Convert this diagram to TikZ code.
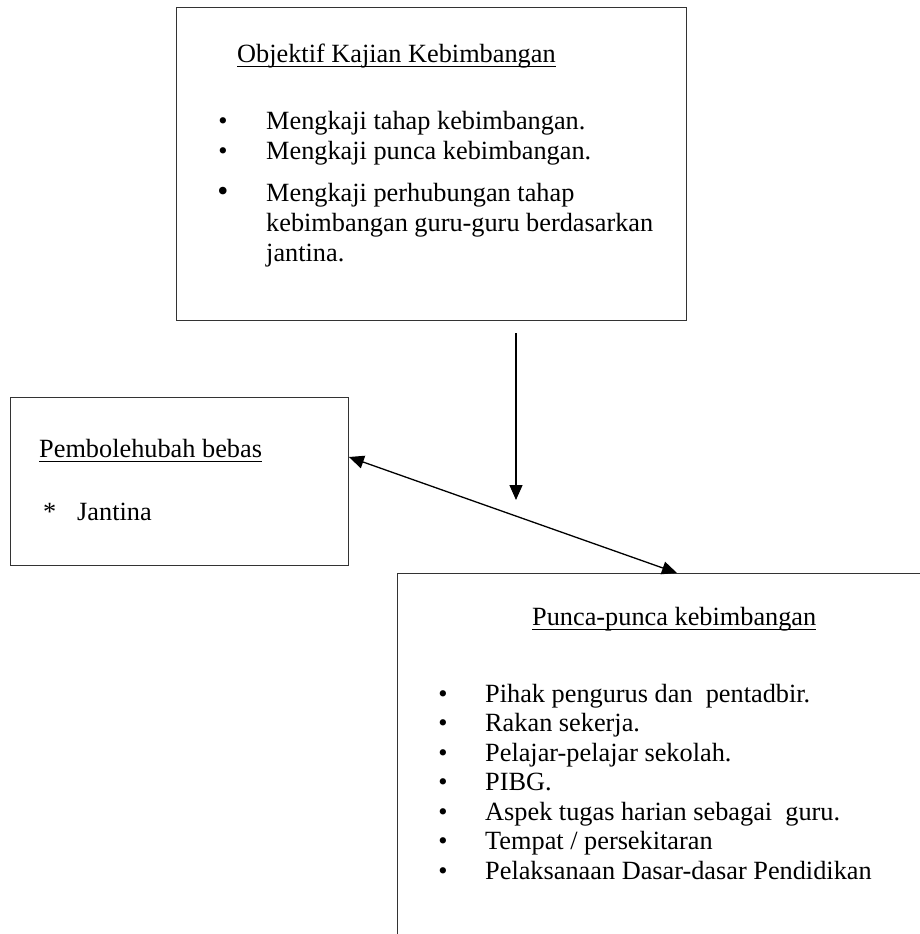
\documentclass[tikz,border=0pt]{standalone}
\usepackage{fontspec}
\setmainfont{Liberation Serif}
\usetikzlibrary{arrows.meta}
\begin{document}
\begin{tikzpicture}[x=1pt,y=-1pt,
  boxline/.style={draw=black!80, line width=0.9pt},
  boxstyle/.style={boxline, inner sep=0pt, anchor=north west},
  txt/.style={anchor=base west, inner sep=0pt, font=\fontsize{26.3}{30}\selectfont},
  bul/.style={anchor=base, inner sep=0pt, font=\fontsize{26.3}{30}\selectfont},
  conn/.style={line width=1.3pt, -{Triangle[length=15pt,width=13pt]}},
  dconn/.style={line width=1.3pt, {Triangle[length=15pt,width=13pt]}-{Triangle[length=15pt,width=13pt]}},
  uline/.style={line width=1pt}]
\useasboundingbox[fill=white] (0,0) rectangle (920,934);

% ---- boxes
\node[boxstyle, minimum width=510pt, minimum height=313pt] (obj) at (176,7) {};
\node[boxstyle, minimum width=338pt, minimum height=168pt] (bebas) at (10,397) {};
\node[inner sep=0pt, anchor=north west, minimum width=540pt, minimum height=370pt] (punca) at (397,573) {};
\draw[boxline] (punca.south west) -- (punca.north west) -- (punca.north east);

% ---- top box text
\node[txt] (objt) at (237,63) {Objektif Kajian Kebimbangan};
\draw[uline] ([yshift=-4pt]objt.base west) -- ([yshift=-4pt]objt.base east);
\node[bul] (ob1) at (223,129) {\textbullet};
\node[txt] (ot1) at (266,129) {Mengkaji tahap kebimbangan.};
\node[bul] (ob2) at (223,159) {\textbullet};
\node[txt] (ot2) at (266,159) {Mengkaji punca kebimbangan.};
\node[bul, scale=1.2] (ob3) at (223,201) {\textbullet};
\node[txt] (ot3) at (266,201) {Mengkaji perhubungan tahap};
\node[txt] (ot4) at (266,231) {kebimbangan guru-guru berdasarkan};
\node[txt] (ot5) at (266,261) {jantina.};

% ---- left box text
\node[txt] (bt) at (39,457) {Pembolehubah bebas};
\draw[uline] ([yshift=-4pt]bt.base west) -- ([yshift=-4pt]bt.base east);
\node[txt] (bs) at (43,520) {*};
\node[txt] (bj) at (77,520) {Jantina};

% ---- bottom box text
\node[txt] (pt) at (532,625) {Punca-punca kebimbangan};
\draw[uline] ([yshift=-4pt]pt.base west) -- ([yshift=-4pt]pt.base east);
\node[bul] (pb1) at (443,702) {\textbullet};
\node[txt] (p1) at (485,702) {Pihak pengurus dan\ \ pentadbir.};
\node[bul] (pb2) at (443,731.5) {\textbullet};
\node[txt] (p2) at (485,731.5) {Rakan sekerja.};
\node[bul] (pb3) at (443,761) {\textbullet};
\node[txt] (p3) at (485,761) {Pelajar-pelajar sekolah.};
\node[bul] (pb4) at (443,790.5) {\textbullet};
\node[txt] (p4) at (485,790.5) {PIBG.};
\node[bul] (pb5) at (443,820) {\textbullet};
\node[txt] (p5) at (485,820) {Aspek tugas harian sebagai\ \ guru.};
\node[bul] (pb6) at (443,849.5) {\textbullet};
\node[txt] (p6) at (485,849.5) {Tempat / persekitaran};
\node[bul] (pb7) at (443,879) {\textbullet};
\node[txt] (p7) at (485,879) {Pelaksanaan Dasar-dasar Pendidikan};

% ---- connectors
\coordinate (vs) at (516,333);
\coordinate (ve) at (516,500);
\draw[conn] (vs) -- (ve);
\draw[dconn] (bebas.east |- 0,457) -- (punca.north -| 677,0);
\end{tikzpicture}
\end{document}
